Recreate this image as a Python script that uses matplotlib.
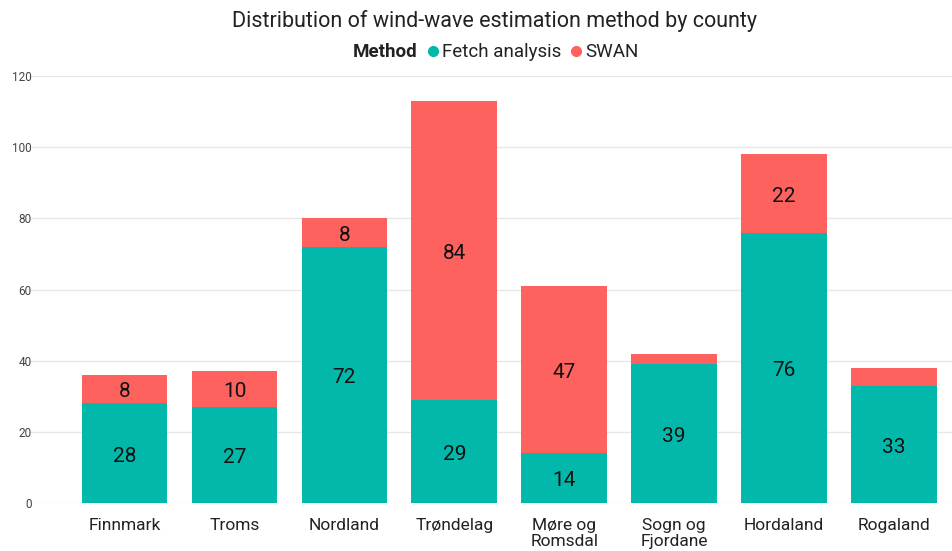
import matplotlib
matplotlib.use('Agg')
import matplotlib.pyplot as plt
from matplotlib.lines import Line2D
import numpy as np

### Data
counties = ["Finnmark", "Troms", "Nordland", "Trøndelag", "Møre og\nRomsdal",
            "Sogn og\nFjordane", "Hordaland", "Rogaland"]
fetch_analysis = [28, 27, 72, 29, 14, 39, 76, 33]
swan = [8, 10, 8, 84, 47, 3, 22, 5]
y_ticks = [0, 20, 40, 60, 80, 100, 120]
###

teal = "#01B8AA"
red = "#FD625E"
plt.rcParams['font.family'] = ['Roboto', 'DejaVu Sans']

fig = plt.figure(figsize=(9.52, 5.51), dpi=100)
ax = fig.add_axes([0.0305, 0.0871, 0.9695, 0.7749])

x = np.arange(len(counties))
width = 0.78
bars_f = ax.bar(x, fetch_analysis, width, color=teal, zorder=2)
bars_s = ax.bar(x, swan, width, bottom=fetch_analysis, color=red, zorder=2)

# segment labels, small segments stay unlabeled
for i in range(len(counties)):
    if fetch_analysis[i] >= 8:
        ax.text(x[i], fetch_analysis[i] / 2 - 0.8, str(fetch_analysis[i]),
                ha='center', va='center', fontsize=15, color='#111111')
    if swan[i] >= 8:
        ax.text(x[i], fetch_analysis[i] + swan[i] / 2 - 0.8, str(swan[i]),
                ha='center', va='center', fontsize=15, color='#111111')

ax.set_xlim(-0.87, 7.53)
ax.set_ylim(0, 120)
ax.set_yticks(y_ticks)
ax.set_yticklabels([str(t) for t in y_ticks], fontsize=8.5, color='#444444')
ax.set_xticks(x)
ax.set_xticklabels(counties, fontsize=12.5, color='#222222', linespacing=1.05)
ax.tick_params(axis='both', length=0)
ax.tick_params(axis='y', pad=-2)
ax.tick_params(axis='x', pad=11)
for s in ax.spines.values():
    s.set_visible(False)
ax.grid(axis='y', color='#e8e8e8', linewidth=1, zorder=0)
ax.set_axisbelow(True)

fig.text(0.519, 0.962, "Distribution of wind-wave estimation method by county",
         ha='center', va='center', fontsize=15.5, color='#222222')

handles = [Line2D([], [], linestyle='none', marker=None),
           Line2D([], [], linestyle='none', marker='o', color=teal, markersize=7),
           Line2D([], [], linestyle='none', marker='o', color=red, markersize=7)]
leg = fig.legend(handles, ['Method', 'Fetch analysis', 'SWAN'], ncol=3,
                 loc='center', bbox_to_anchor=(0.513, 0.905), frameon=False,
                 fontsize=13.5, handlelength=0.6, handletextpad=0.2,
                 columnspacing=0.5)
leg.get_texts()[0].set_fontweight('bold')
for t in leg.get_texts():
    t.set_color('#222222')

plt.savefig("out.png", dpi=100)
